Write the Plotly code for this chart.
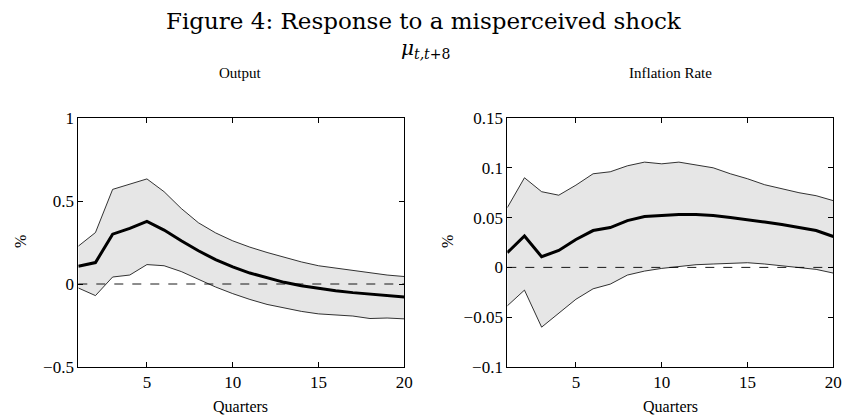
import plotly.graph_objects as go

quarters = list(range(1, 21))

output_median = [0.107, 0.129, 0.30, 0.335, 0.377, 0.325, 0.26, 0.20, 0.147, 0.103,
                 0.066, 0.036, 0.01, -0.01, -0.026, -0.04, -0.052, -0.062, -0.07, -0.078]
output_upper = [0.228, 0.31, 0.57, 0.60, 0.633, 0.556, 0.455, 0.369, 0.308, 0.26,
                0.222, 0.19, 0.16, 0.133, 0.11, 0.095, 0.083, 0.068, 0.054, 0.045]
output_lower = [-0.024, -0.07, 0.042, 0.054, 0.117, 0.11, 0.075, 0.028, -0.018, -0.058,
                -0.093, -0.123, -0.143, -0.165, -0.18, -0.187, -0.193, -0.208, -0.205, -0.21]

infl_median = [0.0148, 0.0315, 0.0107, 0.017, 0.028, 0.037, 0.040, 0.047, 0.051, 0.0523,
               0.053, 0.053, 0.052, 0.050, 0.048, 0.0456, 0.043, 0.040, 0.037, 0.031]
infl_upper = [0.060, 0.090, 0.076, 0.0725, 0.0826, 0.094, 0.096, 0.102, 0.1057, 0.104,
              0.1057, 0.1027, 0.100, 0.094, 0.089, 0.083, 0.079, 0.075, 0.072, 0.067]
infl_lower = [-0.0386, -0.0228, -0.060, -0.0456, -0.032, -0.0215, -0.0168, -0.0077, -0.0037, -0.001,
              0.001, 0.0027, 0.0034, 0.004, 0.0047, 0.0034, 0.0017, 0.0, -0.002, -0.0057]

x_ticks = [5, 10, 15, 20]
output_ticks = [-0.5, 0, 0.5, 1]
output_ticklabels = ["\u22120.5", "0", "0.5", "1"]
infl_ticks = [-0.1, -0.05, 0, 0.05, 0.1, 0.15]
infl_ticklabels = ["\u22120.1", "\u22120.05", "0", "0.05", "0.1", "0.15"]

FONT = "Liberation Serif"
TFONT = "DejaVu Serif"
BAND = "#e6e6e6"

fig = go.Figure()

def add_panel(xa, ya, med, up, lo):
    fig.add_trace(go.Scatter(x=quarters, y=lo, mode="lines", line=dict(color="black", width=0.8),
                             xaxis=xa, yaxis=ya, showlegend=False, hoverinfo="skip"))
    fig.add_trace(go.Scatter(x=quarters, y=up, mode="lines", line=dict(color="black", width=0.8),
                             fill="tonexty", fillcolor=BAND,
                             xaxis=xa, yaxis=ya, showlegend=False, hoverinfo="skip"))
    fig.add_shape(type="line", xref=xa + " domain", yref=ya, x0=0, x1=1, y0=0, y1=0,
                  line=dict(color="black", width=0.9, dash="dash"))
    fig.add_trace(go.Scatter(x=quarters, y=med, mode="lines", line=dict(color="black", width=3),
                             xaxis=xa, yaxis=ya, showlegend=False))

add_panel("x", "y", output_median, output_upper, output_lower)
add_panel("x2", "y2", infl_median, infl_upper, infl_lower)

axis_common = dict(showgrid=False, zeroline=False, ticks="inside", ticklen=5, tickwidth=0.8,
                   tickcolor="black", showline=True, linecolor="black", linewidth=1, mirror="ticks",
                   automargin=False,
                   tickfont=dict(family=FONT, size=17, color="black"))

ytop = 1 - 118 / 415
ybot = 1 - 367 / 415

def ann(text, x, y, family, size, angle=0):
    return dict(text=text, x=x / 844, y=1 - y / 415, xref="paper", yref="paper", showarrow=False,
                xanchor="center", yanchor="middle", textangle=angle,
                font=dict(family=family, size=size, color="black"))

fig.update_layout(
    width=844, height=415,
    margin=dict(l=0, r=0, t=0, b=0, autoexpand=False),
    paper_bgcolor="white", plot_bgcolor="white",
    xaxis=dict(domain=[78.3 / 844, 404.3 / 844], range=[1, 20], tickvals=x_ticks, anchor="y",
               **axis_common),
    yaxis=dict(domain=[ybot, ytop], range=[-0.5, 1], tickvals=output_ticks, ticktext=output_ticklabels,
               anchor="x", **axis_common),
    xaxis2=dict(domain=[507.3 / 844, 833.3 / 844], range=[1, 20], tickvals=x_ticks, anchor="y2",
                **axis_common),
    yaxis2=dict(domain=[ybot, ytop], range=[-0.1, 0.15], tickvals=infl_ticks, ticktext=infl_ticklabels,
                anchor="x2", **axis_common),
    annotations=[
        ann("Figure 4: Response to a misperceived shock", 424, 21, TFONT, 23),
        ann("<i>\u03bc</i><sub><i>t,t</i>+8</sub>", 425, 49, TFONT, 20),
        ann("Output", 241, 73, FONT, 15),
        ann("Inflation Rate", 670, 73, FONT, 15),
        ann("Quarters", 241, 406, FONT, 16),
        ann("Quarters", 670, 406, FONT, 16),
        ann("%", 20, 242, FONT, 16, -90),
        ann("%", 447, 242, FONT, 16, -90),
    ],
)

fig.write_html("out.html", config={"displayModeBar": False},
               post_script="document.body.style.margin='0';document.body.style.padding='0';"
                           "document.documentElement.style.overflow='hidden';")
